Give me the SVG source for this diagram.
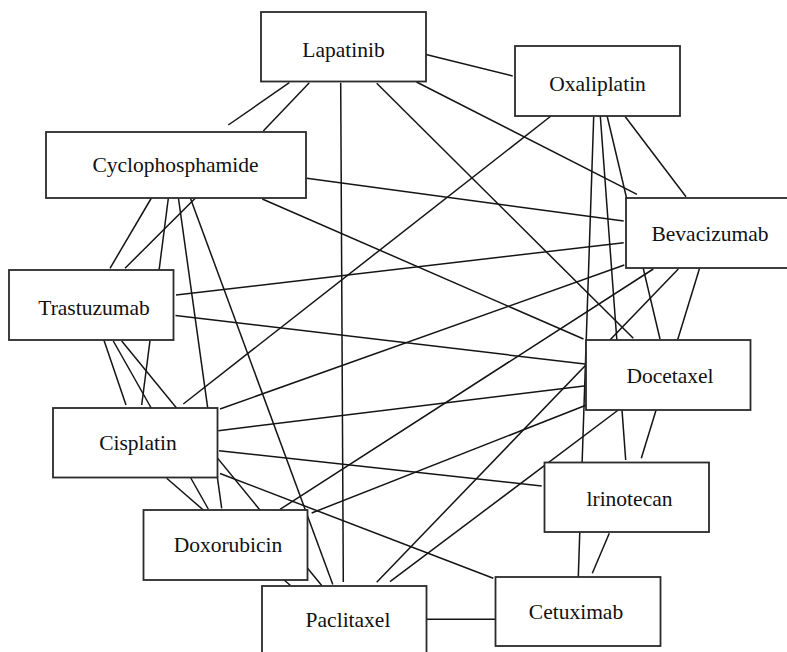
<svg xmlns="http://www.w3.org/2000/svg" width="787" height="652" viewBox="0 0 787 652">
<style>
.bg{fill:#ffffff}
.edges line{stroke:#141414;stroke-width:1.5;fill:none}
.node rect{fill:#ffffff;stroke:#2a2a2a;stroke-width:1.8}
.node text{font-family:"Liberation Serif","DejaVu Serif","Times New Roman",serif;font-size:21.5px;fill:#111111;text-anchor:middle}
</style>
<rect class="bg" x="0" y="0" width="787" height="652"/>
<g id="connectors" class="edges">
<line x1="289.3" y1="82.7" x2="228.3" y2="125"/>
<line x1="309.3" y1="82.7" x2="263.3" y2="131"/>
<line x1="340.7" y1="82.7" x2="343.3" y2="582"/>
<line x1="376.7" y1="83.3" x2="633.3" y2="338.3"/>
<line x1="426" y1="54.5" x2="512.7" y2="76"/>
<line x1="416.5" y1="82" x2="637" y2="194.3"/>
<line x1="306.7" y1="178.3" x2="623.7" y2="221"/>
<line x1="262.3" y1="199" x2="583.5" y2="339"/>
<line x1="152" y1="197" x2="110" y2="268.3"/>
<line x1="168.3" y1="198.5" x2="141.7" y2="405"/>
<line x1="195" y1="198.5" x2="125" y2="268.3"/>
<line x1="178.5" y1="198.5" x2="221.7" y2="508.3"/>
<line x1="190.5" y1="198.5" x2="332.8" y2="584.5"/>
<line x1="176" y1="295" x2="623.7" y2="242.7"/>
<line x1="175.5" y1="315.5" x2="585" y2="364"/>
<line x1="103.3" y1="338.3" x2="126" y2="405"/>
<line x1="113.3" y1="341" x2="208.3" y2="509"/>
<line x1="121.7" y1="341" x2="321.7" y2="585.5"/>
<line x1="551" y1="116" x2="183.3" y2="404"/>
<line x1="593.7" y1="116.7" x2="578.3" y2="576.7"/>
<line x1="600.3" y1="116" x2="625.7" y2="460"/>
<line x1="607" y1="115.5" x2="660" y2="339"/>
<line x1="625.3" y1="116.7" x2="686" y2="196.7"/>
<line x1="624.3" y1="265" x2="220" y2="409"/>
<line x1="653.3" y1="269" x2="280" y2="509.3"/>
<line x1="678.3" y1="269" x2="376.7" y2="582.3"/>
<line x1="699.5" y1="268.5" x2="641.3" y2="458.3"/>
<line x1="218.3" y1="430.7" x2="584" y2="386"/>
<line x1="219" y1="450.7" x2="541.7" y2="486"/>
<line x1="220" y1="473.5" x2="493.3" y2="578.3"/>
<line x1="166.7" y1="478.3" x2="290.5" y2="585.5"/>
<line x1="586.5" y1="405" x2="311.7" y2="513"/>
<line x1="618.3" y1="410" x2="390" y2="581.7"/>
<line x1="609.3" y1="533.3" x2="592.3" y2="573.3"/>
<line x1="426.3" y1="619.3" x2="495.3" y2="619.3"/>
</g>
<g id="lapatinib" class="node"><rect x="261" y="12" width="165" height="69.5"/><text x="343.5" y="57">Lapatinib</text></g>
<g id="oxaliplatin" class="node"><rect x="515" y="46" width="165" height="70"/><text x="597.5" y="90.5">Oxaliplatin</text></g>
<g id="cyclophosphamide" class="node"><rect x="46" y="132" width="260" height="66"/><text x="175.5" y="172">Cyclophosphamide</text></g>
<g id="bevacizumab" class="node"><rect x="626" y="198" width="166" height="70"/><text x="710" y="240.5">Bevacizumab</text></g>
<g id="trastuzumab" class="node"><rect x="9" y="270" width="164.5" height="70"/><text x="94" y="315">Trastuzumab</text></g>
<g id="cisplatin" class="node"><rect x="53" y="408" width="164.5" height="69.5"/><text x="138" y="450">Cisplatin</text></g>
<g id="doxorubicin" class="node"><rect x="143.5" y="510" width="164" height="70"/><text x="228" y="552">Doxorubicin</text></g>
<g id="paclitaxel" class="node"><rect x="262" y="586" width="164.5" height="70"/><text x="348" y="626.5">Paclitaxel</text></g>
<g id="docetaxel" class="node"><rect x="586" y="340" width="164.5" height="70"/><text x="670" y="383">Docetaxel</text></g>
<g id="irinotecan" class="node"><rect x="544.5" y="462.5" width="164.5" height="69.5"/><text x="629.5" y="505.5">lrinotecan</text></g>
<g id="cetuximab" class="node"><rect x="495.5" y="577" width="165" height="69"/><text x="576" y="619">Cetuximab</text></g>
</svg>
